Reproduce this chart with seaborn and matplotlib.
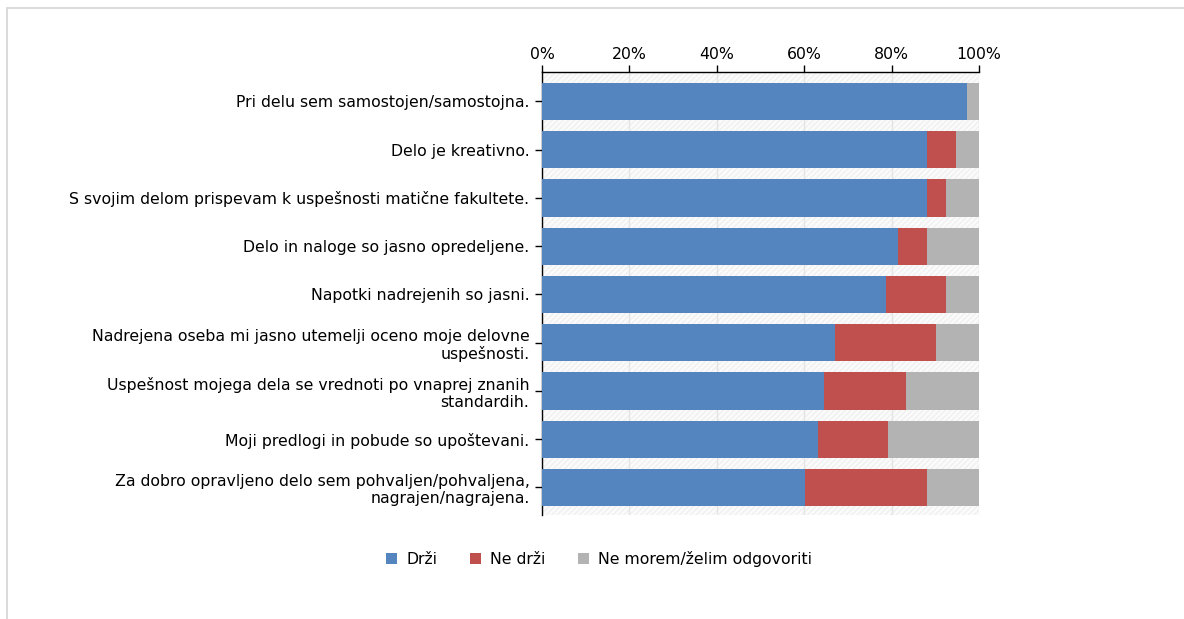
import numpy as np
import pandas as pd
import matplotlib
matplotlib.use('Agg')
from matplotlib import pyplot as plt
from matplotlib.patches import Patch, Rectangle
from matplotlib.ticker import MultipleLocator, PercentFormatter
import seaborn as sns

sns.set_theme(style='white', rc={'figure.figsize': (11.84, 6.19), 'figure.dpi': 100,
                                 'text.color': 'black', 'xtick.color': 'black',
                                 'ytick.color': 'black'})
plt.rcParams['font.family'] = ['DejaVu Sans']

trditve = [
    'Pri delu sem samostojen/samostojna.',
    'Delo je kreativno.',
    'S svojim delom prispevam k uspešnosti matične fakultete.',
    'Delo in naloge so jasno opredeljene.',
    'Napotki nadrejenih so jasni.',
    'Nadrejena oseba mi jasno utemelji oceno moje delovne\nuspešnosti.',
    'Uspešnost mojega dela se vrednoti po vnaprej znanih\nstandardih.',
    'Moji predlogi in pobude so upoštevani.',
    'Za dobro opravljeno delo sem pohvaljen/pohvaljena,\nnagrajen/nagrajena.',
]
drzi = [97.3, 88.0, 88.0, 81.4, 78.7, 67.0, 64.5, 63.2, 60.2]
ne_drzi = [0.0, 6.8, 4.4, 6.6, 13.7, 23.1, 18.7, 15.9, 27.8]
ne_morem = [2.7, 5.2, 7.6, 12.0, 7.6, 9.9, 16.8, 20.9, 12.0]
serije = ['Drži', 'Ne drži', 'Ne morem/želim odgovoriti']
barve = ['#5585BE', '#C0504D', '#B3B3B3']

df = pd.DataFrame({'trditev': trditve, 'Drži': drzi, 'Ne drži': ne_drzi,
                   'Ne morem/želim odgovoriti': ne_morem})
# cumulative sums for stacking (draw widest first)
df['c1'] = df['Drži']
df['c2'] = df['c1'] + df['Ne drži']
df['c3'] = df['c2'] + df['Ne morem/želim odgovoriti']

fig = plt.figure()
ax = fig.add_axes([542 / 1184, 1 - 515 / 619, 437 / 1184, 443 / 619])

for col, c in zip(['c3', 'c2', 'c1'], barve[::-1]):
    sns.barplot(data=df, x=col, y='trditev', orient='h', color=c,
                width=0.77, saturation=1, linewidth=0, ax=ax, zorder=3)

fs = 11.3
ax.set_xlim(0, 100)
ax.set_ylim(8.57, -0.61)
ax.set_xlabel('')
ax.set_ylabel('')
ax.xaxis.set_major_locator(MultipleLocator(20))
ax.xaxis.set_major_formatter(PercentFormatter(decimals=0))
ax.xaxis.tick_top()
ax.tick_params(axis='x', which='major', direction='out', length=5, width=1,
               labelsize=fs, pad=2, top=True, bottom=False)
ax.tick_params(axis='y', direction='out', length=5, width=1,
               labelsize=fs, pad=4, left=True)
for lbl in ax.get_yticklabels():
    lbl.set_horizontalalignment('right')
    lbl.set_multialignment('right')

ax.grid(axis='x', color='#e4e4e4', linewidth=1, zorder=1)
ax.set_axisbelow(True)
ax.patch.set_facecolor('#fbfbfb')
ax.patch.set_hatch('//////')
ax.patch.set_edgecolor('#f0f0f0')
for s in ['bottom', 'right']:
    ax.spines[s].set_visible(False)
for s in ['top', 'left']:
    ax.spines[s].set_color('black')
    ax.spines[s].set_linewidth(1)

handles = [Patch(facecolor=c, edgecolor='none', label=s) for s, c in zip(serije, barve)]
fig.legend(handles=handles, loc='center', bbox_to_anchor=(0.506, 0.097), ncol=3,
           frameon=False, fontsize=fs, handlelength=0.7, handleheight=0.7,
           handletextpad=0.6, columnspacing=2.05)

# light frame around chart area
fig.patches.append(Rectangle((7 / 1184, -0.1), 1.2, 1.1 - 8 / 619, transform=fig.transFigure,
                             fill=False, edgecolor='#d4d4d4', linewidth=1.2))

fig.savefig('out.png', dpi=100)
